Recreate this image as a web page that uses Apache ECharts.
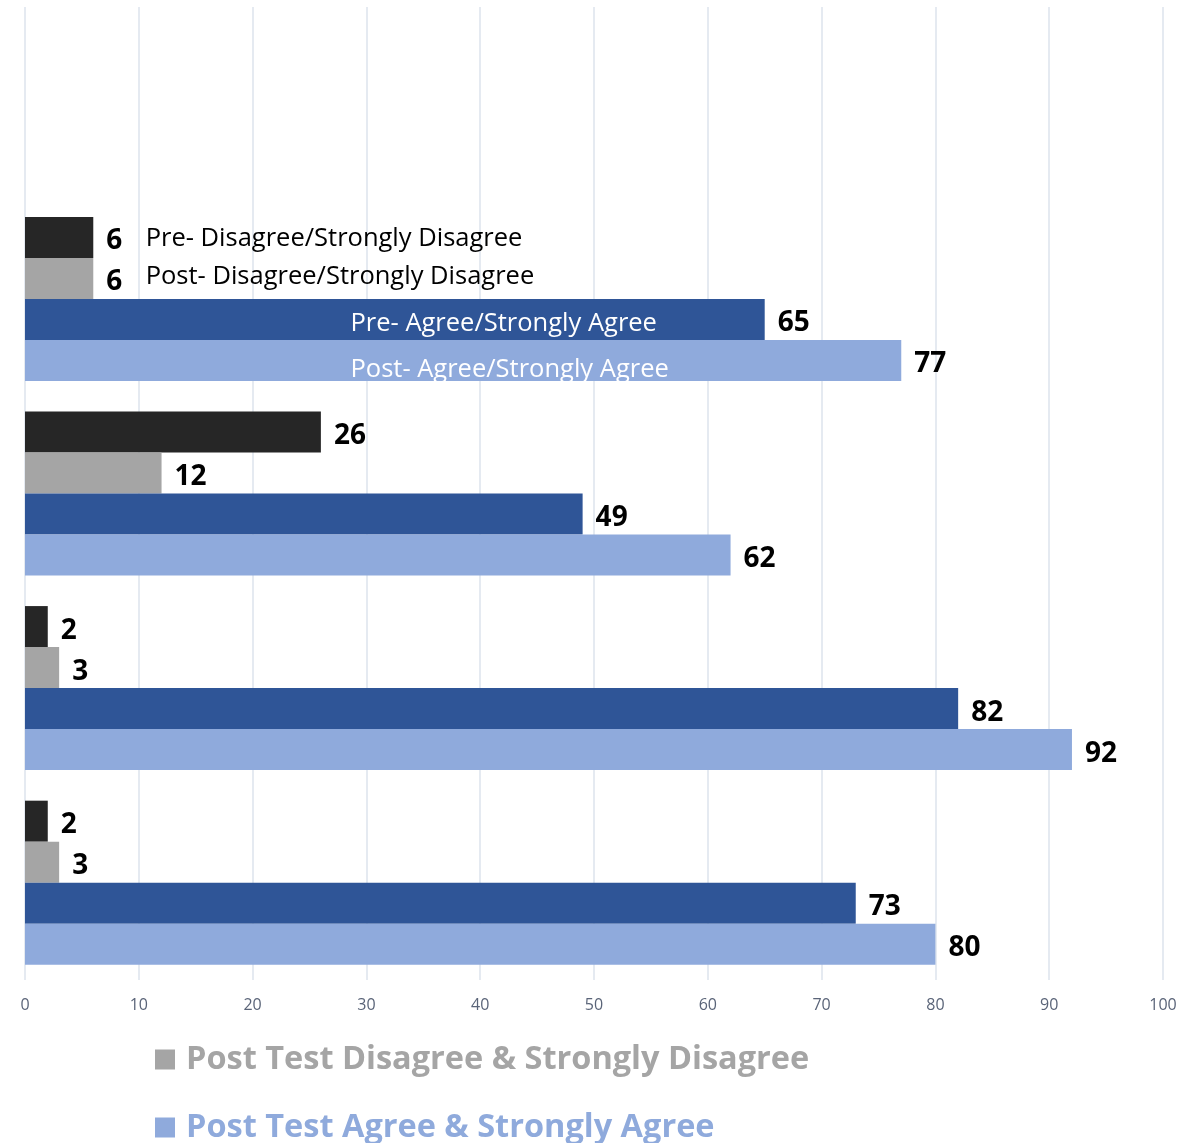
<!DOCTYPE html>
<html>
<head>
<meta charset="utf-8">
<script src="https://cdn.jsdelivr.net/npm/echarts@6/dist/echarts.min.js"></script>
<style>html,body{margin:0;padding:0;background:#fff;}#c{width:1196px;height:1143px;}</style>
</head>
<body>
<div id="c"></div>
<script>
// Categories (top to bottom); first band is empty in the source chart
var categories = ['', 'Item 1', 'Item 2', 'Item 3', 'Item 4'];
var seriesNames = [
  'Pre Test Disagree & Strongly Disagree',
  'Post Test Disagree & Strongly Disagree',
  'Pre Test Agree & Strongly Agree',
  'Post Test Agree & Strongly Agree'
];
var preDisagree  = [null, 6, 26, 2, 2];
var postDisagree = [null, 6, 12, 3, 3];
var preAgree     = [null, 65, 49, 82, 73];
var postAgree    = [null, 77, 62, 92, 80];
var annotations  = [
  'Pre- Disagree/Strongly Disagree',
  'Post- Disagree/Strongly Disagree',
  'Pre- Agree/Strongly Agree',
  'Post- Agree/Strongly Agree'
];
var annotationX  = [10.6, 10.6, 28.6, 28.6];
var xTicks = [0, 10, 20, 30, 40, 50, 60, 70, 80, 90, 100];

var colors = ['#262626', '#a5a5a5', '#2f5597', '#8faadc'];
var annColors = ['#000000', '#000000', '#ffffff', '#ffffff'];
var annOffsets = [[0, 1], [0, -2], [0, 4], [0, 9]];
var allData = [preDisagree, postDisagree, preAgree, postAgree];
var FONT = '"Open Sans", "Noto Sans", sans-serif';

var series = allData.map(function (d, i) {
  return {
    name: seriesNames[i],
    type: 'bar',
    data: d,
    barGap: '0%',
    barCategoryGap: '15.7%',
    itemStyle: { color: colors[i] },
    label: {
      show: true, position: 'right', distance: 13, offset: [0, 4],
      color: '#000', fontFamily: FONT, fontWeight: 'bold', fontSize: 28
    },
    markPoint: {
      symbol: 'rect', symbolSize: 0, silent: true,
      label: {
        show: true, position: 'inside', align: 'left', offset: annOffsets[i],
        color: annColors[i], fontFamily: FONT, fontSize: 25.5,
        formatter: function (p) { return p.name; }
      },
      data: [{ name: annotations[i], coord: [annotationX[i], categories[1]] }]
    },
    animation: false
  };
});

function makeLegend(idx, top) {
  return {
    orient: 'horizontal', left: 150, top: top,
    icon: 'rect', itemWidth: 20, itemHeight: 20,
    textStyle: { fontFamily: FONT, fontWeight: 'bold', fontSize: 32.5, padding: [0, 0, 0, 6] },
    data: [{ name: seriesNames[idx], textStyle: { color: colors[idx] } }],
    selectedMode: false
  };
}

var chart = echarts.init(document.getElementById('c'));
chart.setOption({
  backgroundColor: '#ffffff',
  animation: false,
  grid: { left: 25, right: 33, top: 7, bottom: 163, containLabel: false },
  xAxis: {
    type: 'value', min: 0, max: 100, interval: 10,
    axisLine: { show: false }, axisTick: { show: false },
    splitLine: { show: true, lineStyle: { color: '#dde3ec', width: 1.5 } },
    axisLabel: {
      margin: 17, color: '#5a6478', fontFamily: FONT, fontSize: 16,
      formatter: function (v) { return xTicks.indexOf(v) >= 0 ? String(v) : ''; }
    }
  },
  yAxis: {
    type: 'category', data: categories, inverse: true,
    axisLine: { show: false }, axisTick: { show: false }, axisLabel: { show: false },
    splitLine: { show: false }
  },
  legend: [makeLegend(1, 1038), makeLegend(3, 1106)],
  series: series
});
</script>
</body>
</html>
